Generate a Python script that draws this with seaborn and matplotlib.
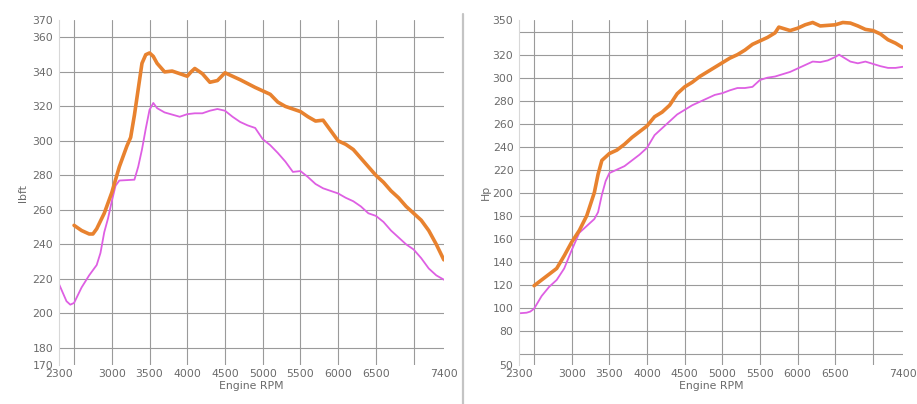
import pandas as pd
import seaborn as sns
import matplotlib.pyplot as plt
from matplotlib.lines import Line2D

# ---- torque (lbft) ----
tq_a_rpm = [2500, 2600, 2700, 2750, 2800, 2900, 3000, 3100, 3200, 3250, 3300, 3350,
            3400, 3450, 3500, 3550, 3600, 3700, 3800, 3900, 4000, 4050, 4100, 4200,
            4300, 4400, 4500, 4700, 4900, 5000, 5100, 5200, 5300, 5500, 5600, 5700,
            5800, 5900, 6000, 6100, 6200, 6300, 6400, 6500, 6600, 6700, 6800, 6900,
            7000, 7100, 7200, 7300, 7400]
tq_a = [251, 248, 246, 246, 249, 258, 270, 285, 297, 302, 315, 330,
        345, 350, 351, 349, 345, 340, 340.5, 339, 337.5, 340, 342, 339,
        334, 335, 339.5, 335.5, 331, 329, 327, 322.5, 320, 317, 314, 311.5,
        312, 306, 300, 298, 295, 290, 285, 280, 276, 271, 267, 262,
        258, 254, 248, 240, 231]

tq_b_rpm = [2300, 2400, 2450, 2500, 2600, 2700, 2800, 2850, 2900, 2950, 3000, 3050,
            3100, 3300, 3350, 3400, 3450, 3500, 3550, 3600, 3700, 3900, 4000, 4100,
            4200, 4300, 4400, 4500, 4600, 4700, 4800, 4900, 5000, 5100, 5200, 5300,
            5400, 5500, 5600, 5700, 5800, 5900, 6000, 6100, 6200, 6300, 6400, 6500,
            6600, 6700, 6800, 6900, 7000, 7100, 7200, 7300, 7400]
tq_b = [217, 207, 205, 206, 215, 222, 228, 235, 247, 255, 265, 274,
        277, 277.5, 285, 295, 307, 318, 322, 319, 316.5, 314, 315.5, 316,
        316, 317.5, 318.5, 317.5, 314, 311, 309, 307.5, 301, 297.5, 293, 288,
        282, 282.5, 279, 275, 272.5, 271, 269.5, 267, 265, 262, 258, 256.5,
        253, 248, 244, 240, 237, 232, 226, 222, 219.5]

# ---- power (Hp) ----
hp_a_rpm = [2500, 2600, 2700, 2800, 2900, 3000, 3100, 3200, 3300, 3350, 3400, 3500,
            3600, 3700, 3800, 3900, 4000, 4100, 4200, 4300, 4400, 4500, 4600, 4700,
            4800, 4900, 5000, 5100, 5200, 5300, 5400, 5500, 5600, 5700, 5750, 5800,
            5900, 6000, 6100, 6200, 6300, 6400, 6500, 6600, 6700, 6800, 6900, 7000,
            7100, 7200, 7300, 7400]
hp_a = [119, 124, 129, 134, 145, 157, 167, 180, 200, 216, 228, 234,
        237, 242, 248, 253, 258, 266, 270, 276, 286, 292, 296, 301,
        305, 309, 313, 317, 320, 324, 329, 332, 335, 339, 344, 343,
        341, 343, 346, 348, 345, 345.5, 346, 348, 347.5, 345, 342, 341,
        338, 333, 330, 326]

hp_b_rpm = [2300, 2400, 2450, 2500, 2600, 2700, 2800, 2900, 3000, 3100, 3200, 3300,
            3350, 3400, 3450, 3500, 3600, 3700, 3800, 3900, 4000, 4100, 4200, 4300,
            4400, 4500, 4600, 4700, 4800, 4900, 5000, 5100, 5200, 5300, 5400, 5500,
            5600, 5700, 5800, 5900, 6000, 6100, 6200, 6300, 6400, 6500, 6550, 6600,
            6700, 6800, 6900, 7000, 7100, 7200, 7300, 7400]
hp_b = [95, 95.5, 96.5, 99, 110, 118, 124, 134, 150, 165, 171, 177,
        183, 198, 210, 217, 220, 223, 228, 233, 239, 250, 256, 262,
        268, 272, 276, 279, 282, 285, 286.5, 289, 291, 291, 292, 298,
        300, 301, 303, 305, 308, 311, 314, 313.5, 315, 318, 320, 318,
        314, 312.5, 314, 312, 310, 308.5, 308.5, 309.5]

rpm_ticks = [2300, 2500, 3000, 3500, 4000, 4500, 5000, 5500, 6000, 6500, 7000, 7400]
rpm_labels = ['2300', '', '3000', '3500', '4000', '4500', '5000', '5500',
              '6000', '6500', '', '7400']
rpm_grid = [2500, 3000, 3500, 4000, 4500, 5000, 5500, 6000, 6500, 7000]

tq_ticks = [170, 180, 200, 220, 240, 260, 280, 300, 320, 340, 360, 370]
tq_grid = [180, 200, 220, 240, 260, 280, 300, 320, 340, 360]
hp_ticks = [50, 80, 100, 120, 140, 160, 180, 200, 220, 240, 260, 280, 300, 320, 350]
hp_grid = [60, 80, 100, 120, 140, 160, 180, 200, 220, 240, 260, 280, 300, 320, 340]

ORANGE = '#e8822f'
MAGENTA = '#de5fe3'
TXT = '#6a6a6a'

tq_df = pd.concat([
    pd.DataFrame({'rpm': tq_a_rpm, 'val': tq_a, 'run': 'A'}),
    pd.DataFrame({'rpm': tq_b_rpm, 'val': tq_b, 'run': 'B'}),
])
hp_df = pd.concat([
    pd.DataFrame({'rpm': hp_a_rpm, 'val': hp_a, 'run': 'A'}),
    pd.DataFrame({'rpm': hp_b_rpm, 'val': hp_b, 'run': 'B'}),
])

sns.set_style('white')
plt.rcParams['font.family'] = ['DejaVu Sans']

fig = plt.figure(figsize=(9.17, 4.04), dpi=100)
ax1 = fig.add_axes([0.0643, 0.0965, 0.4197, 0.8535])
ax2 = fig.add_axes([0.566, 0.0965, 0.4188, 0.8535])


def style_axis(ax, df, yticks, ygrid, ylim, ylabel, labelpad):
    ax.set_axisbelow(True)
    # keep minor gridlines even where they fall on a labelled tick
    ax.xaxis.remove_overlapping_locs = False
    ax.yaxis.remove_overlapping_locs = False
    sns.lineplot(data=df, x='rpm', y='val', hue='run', size='run',
                 palette={'A': ORANGE, 'B': MAGENTA}, sizes={'A': 2.6, 'B': 1.3},
                 hue_order=['B', 'A'], sort=False, legend=False, ax=ax)
    ax.set_xlim(2300, 7400)
    ax.set_ylim(*ylim)
    ax.set_xticks(rpm_ticks)
    ax.set_xticklabels(rpm_labels)
    ax.set_yticks(yticks)
    ax.set_yticklabels([str(t) for t in yticks])
    ax.set_xticks(rpm_grid, minor=True)
    ax.set_yticks(ygrid, minor=True)
    ax.grid(which='major', visible=False)
    ax.grid(which='minor', color='#9a9a9a', linewidth=0.8)
    ax.tick_params(axis='both', which='major', labelsize=7.8, labelcolor=TXT,
                   color='#888888', length=3, width=0.7, pad=1)
    ax.tick_params(axis='x', which='major', length=0, pad=3)
    ax.tick_params(which='minor', length=0)
    ax.set_xlabel('Engine RPM', fontsize=7.8, color=TXT, labelpad=1)
    ax.set_ylabel(ylabel, fontsize=7.8, color=TXT, labelpad=labelpad)
    for side in ['top', 'right', 'bottom']:
        ax.spines[side].set_visible(False)
    ax.spines['left'].set_color('#d8d8d8')
    ax.spines['left'].set_linewidth(0.8)


style_axis(ax1, tq_df, tq_ticks, tq_grid, (170, 370), 'lbft', 3)
style_axis(ax2, hp_df, hp_ticks, hp_grid, (50, 350), 'Hp', 1)

# divider between the two panels
fig.add_artist(Line2D([0.505, 0.505], [0.0, 0.965], transform=fig.transFigure,
                      color='#c4c4c4', linewidth=1.6))

fig.savefig('out.png', dpi=100)
